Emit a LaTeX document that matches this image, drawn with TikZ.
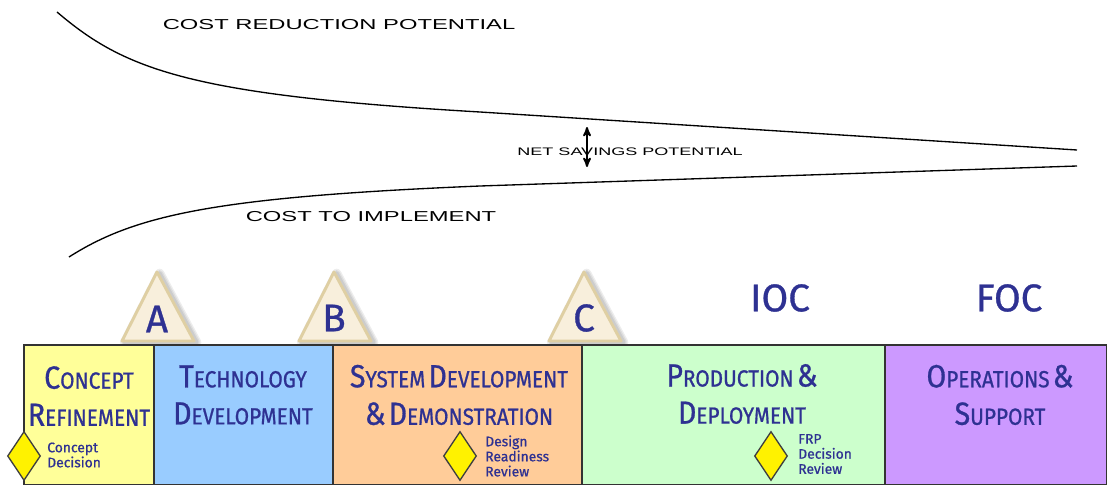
\documentclass[tikz,border=0pt]{standalone}
\usepackage{fontspec}
\setmainfont{Liberation Sans}
\newfontfamily\phasefont[FakeStretch=0.89,FakeBold=0.8]{Fira Sans}
\newfontfamily\markfont[FakeBold=0.8]{Fira Sans}
\newfontfamily\widefont[FakeStretch=1.65]{Liberation Sans}
\usetikzlibrary{arrows,shapes.geometric}

\definecolor{phaseink}{HTML}{2E3192}
\definecolor{gateline}{HTML}{DFCFA3}
\definecolor{gatefill}{HTML}{F8EFDC}
\definecolor{conceptfill}{HTML}{FFFF99}
\definecolor{techfill}{HTML}{99CCFF}
\definecolor{sddfill}{HTML}{FFCC99}
\definecolor{prodfill}{HTML}{CCFFCC}
\definecolor{opsfill}{HTML}{CC99FF}

% big first letter, small rest
\newcommand{\capword}[2]{{\fontsize{24}{24}\selectfont #1}{\fontsize{17.5}{17.5}\selectfont #2}}

\tikzset{
  phase/.style={draw=black!80,line width=1pt,anchor=north west,minimum height=139.5*0.75pt,inner sep=0pt,outer sep=0pt},
  phasename/.style={text=phaseink,align=center,font=\phasefont,inner sep=0pt},
  milestone/.style={text=phaseink,font=\markfont\fontsize{29}{29}\selectfont,inner sep=0pt},
  decision/.style={diamond,draw=black!75,fill=yellow,line width=1pt,minimum width=33*0.75pt,minimum height=49*0.75pt,inner sep=0pt},
  decisionname/.style={text=phaseink,align=left,anchor=west,inner sep=0pt,font=\markfont\fontsize{10.4}{11.3}\selectfont},
  gateglow/.style={draw=black,opacity=0.07,line width=#1,line join=round,transform canvas={shift={(2pt,-1pt)}}},
  gate/.style={draw=gateline,fill=gatefill,line width=2.2pt,line join=round,
    preaction={gateglow=7pt},preaction={gateglow=5pt},preaction={gateglow=3pt}},
  trend/.style={line width=1pt},
  caption/.style={font=\widefont\fontsize{10.8}{12}\selectfont,inner sep=0pt}
}

\begin{document}
\begin{tikzpicture}[x=0.75pt,y=-0.75pt,>=stealth']
    \useasboundingbox (0,0) rectangle (1107,485);

    % curves
    \coordinate (reducestart) at (57,12);
    \coordinate (reducemid)   at (480,112);
    \coordinate (reduceend)   at (1077,150);
    \coordinate (implstart)   at (69,257);
    \coordinate (implmid)     at (480,186);
    \coordinate (implend)     at (1077,166);
    \draw[trend] (reducestart) .. controls (125,70) and (190,95) .. (reducemid) -- (reduceend);
    \draw[trend] (implstart) .. controls (135,215) and (215,197) .. (implmid) -- (implend);

    \node[caption] (reduce) at (339,25)  {COST REDUCTION POTENTIAL};
    \node[caption] (impl)   at (371,217) {COST TO IMPLEMENT};
    \node[caption,font=\widefont\fontsize{8.2}{10}\selectfont] (savings) at (630,152) {NET SAVINGS POTENTIAL};

    \coordinate (savetop) at (587,127);
    \coordinate (savebot) at (587,167);
    \draw[<->,line width=1.4pt] (savetop) -- (savebot);

    % gates
    \draw[gate] (157,272) -- (194,341) -- (122,341) -- cycle;
    \draw[gate] (334,272) -- (371,341) -- (299,341) -- cycle;
    \draw[gate] (584,272) -- (621,341) -- (549,341) -- cycle;

    \node[milestone] (gateA) at (157,319) {A};
    \node[milestone] (gateB) at (334,318) {B};
    \node[milestone] (gateC) at (584,318) {C};
    \node[milestone] (ioc)   at (780,298) {IOC};
    \node[milestone] (foc)   at (1009,298) {FOC};

    % phases
    \node[phase,fill=conceptfill,minimum width=130*0.75pt] (concept) at (24,345)  {};
    \node[phase,fill=techfill,minimum width=179*0.75pt]    (tech)    at (154,345) {};
    \node[phase,fill=sddfill,minimum width=249*0.75pt]     (sdd)     at (333,345) {};
    \node[phase,fill=prodfill,minimum width=303*0.75pt]    (prod)    at (582,345) {};
    \node[phase,fill=opsfill,minimum width=222*0.75pt]     (ops)     at (885,345) {};

    \node[phasename] (conceptname) at (89,396) {\capword{C}{ONCEPT}\\[10pt]\capword{R}{EFINEMENT}};
    \node[phasename] (techname)    at (243,395) {\capword{T}{ECHNOLOGY}\\[10pt]\capword{D}{EVELOPMENT}};
    \node[phasename] (sddname)     at (459,395) {\capword{S}{YSTEM} \capword{D}{EVELOPMENT}\\[10pt]\capword{\&}{} \capword{D}{EMONSTRATION}};
    \node[phasename] (prodname)    at (742,394) {\capword{P}{RODUCTION} \capword{\&}{}\\[10pt]\capword{D}{EPLOYMENT}};
    \node[phasename] (opsname)     at (1000,395) {\capword{O}{PERATIONS} \capword{\&}{}\\[10pt]\capword{S}{UPPORT}};

    % decisions
    \node[decision] (cdmark) at (24,456) {};
    \node[decision] (drmark) at (460,456) {};
    \node[decision] (frmark) at (771,456) {};

    \node[decisionname] (cdname) at (47,455) {Concept\\Decision};
    \node[decisionname] (drname) at (485,456) {Design\\Readiness\\Review};
    \node[decisionname] (frname) at (798,454) {FRP\\Decision\\Review};
\end{tikzpicture}
\end{document}
